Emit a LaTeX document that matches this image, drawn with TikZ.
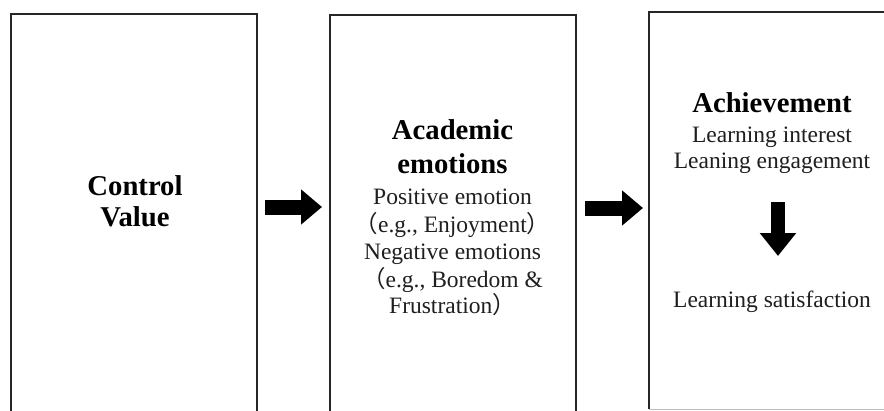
\documentclass[tikz,border=0pt]{standalone}
\usepackage{fontspec}
\setmainfont{Liberation Serif}
\newfontfamily\cjkfont{Noto Sans CJK SC}
\usetikzlibrary{arrows.meta}
\newcommand{\fwlp}{{\cjkfont （}}
\newcommand{\fwrp}{{\cjkfont ）}}
\begin{document}
\begin{tikzpicture}[x=1pt,y=-1pt,
  box/.style={draw=black!85, line width=2pt, inner sep=0pt},
  head/.style={font=\fontsize{28.7}{31}\selectfont\bfseries, anchor=base, inner sep=0pt, text=black},
  body/.style={font=\fontsize{23.5}{27}\selectfont, anchor=base, inner sep=0pt, text=black!88},
  blockarrow/.style={line width=15pt, -{Triangle[length=21pt,width=34pt]}, black}]
\useasboundingbox (0,0) rectangle (884,410);
\fill[white] (0,0) rectangle (884,410);
\clip (0,0) rectangle (884,410);
% boxes
\node[box, minimum width=246pt, minimum height=406pt] (b1) at (134,217) {};
\node[box, minimum width=245.5pt, minimum height=405pt] (b2) at (452.75,217.5) {};
\node[inner sep=0pt, minimum width=251pt, minimum height=397pt] (b3) at (774.5,210.5) {};
\draw[draw=black!85, line width=2pt] (b3.south west) |- (b3.north east);
\draw[draw=black!25, line width=1pt] (b3.south west) -- (b3.south east);
% box 1 text
\node[head] (c1) at (135,195) {Control};
\node[head] (c2) at (135,226) {Value};
% box 2 text
\node[head] (e1) at (452.5,139) {Academic};
\node[head] (e2) at (452.5,173) {emotions};
\node[body] (e3) at (452.5,204) {Positive emotion};
\node[body] (e4) at (452.5,232) {\fwlp e.g., Enjoyment\fwrp};
\node[body] (e5) at (452.5,259) {Negative emotions};
\node[body] (e6) at (452.5,287) {\fwlp e.g., Boredom \&};
\node[body] (e7) at (452.5,313) {Frustration\fwrp};
% box 3 text
\node[head] (h1) at (772,112) {Achievement};
\node[body] (h2) at (772,142) {Learning interest};
\node[body] (h3) at (772,168) {Leaning engagement};
\node[body] (h4) at (772,307) {Learning satisfaction};
% arrows
\coordinate (a1s) at (265,207);
\coordinate (a1e) at (322,207);
\coordinate (a2s) at (585,208);
\coordinate (a2e) at (643,208);
\coordinate (d1) at (778,202);
\coordinate (d2) at (778,256);
\draw[blockarrow] (a1s) -- (a1e);
\draw[blockarrow] (a2s) -- (a2e);
\draw[line width=14pt, -{Triangle[length=23pt,width=35pt]}, black] (d1) -- (d2);
\end{tikzpicture}
\end{document}
